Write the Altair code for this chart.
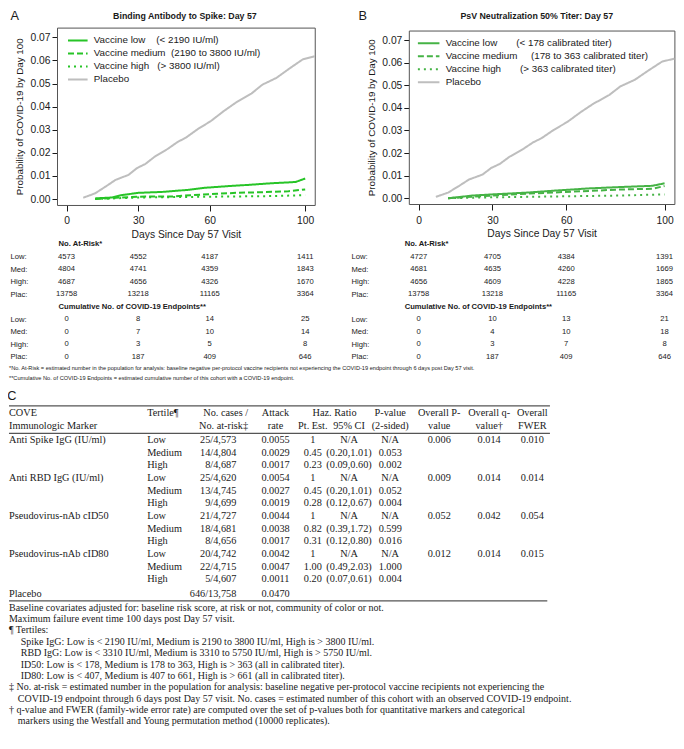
import json
import altair as alt
import pandas as pd

# ============================== DATA ==============================
SERIES = ["Vaccine low", "Vaccine medium", "Vaccine high", "Placebo"]

PLACEBO_DAY = [7, 12, 16.5, 20.5, 26, 29.5, 33, 37, 42.5, 46.5, 50, 55, 60.5, 66, 71, 77.5, 82, 88, 93.5, 99, 104]
PLACEBO_P = [0.0006, 0.0025, 0.0055, 0.0083, 0.0105, 0.0134, 0.0152, 0.0184, 0.0218, 0.0247, 0.0266,
             0.0303, 0.0338, 0.0382, 0.0418, 0.0457, 0.0495, 0.0525, 0.0566, 0.0605, 0.0618]

A_LOW_DAY = [12, 19, 23, 30, 40, 51, 58, 69, 77, 85, 96, 100]
A_LOW_P = [0.0003, 0.0007, 0.0017, 0.0027, 0.0031, 0.0040, 0.0049, 0.0057, 0.0062, 0.0068, 0.0074, 0.0089]
A_MED_DAY = [12, 23, 33, 44, 52, 63, 71, 82, 93, 100]
A_MED_P = [0.0, 0.0007, 0.0011, 0.0011, 0.0017, 0.0023, 0.0027, 0.0030, 0.0034, 0.0042]
A_HIGH_DAY = [12, 30, 58, 85, 100]
A_HIGH_P = [0.0, 0.0007, 0.0010, 0.0013, 0.0017]

B_LOW_DAY = [12, 22, 30, 44, 57, 70, 83, 95, 100]
B_LOW_P = [0.0, 0.0012, 0.0017, 0.0025, 0.0035, 0.0044, 0.0050, 0.0055, 0.0066]
B_MED_DAY = [12, 25, 44, 62, 83, 95, 100]
B_MED_P = [0.0, 0.0009, 0.0020, 0.0029, 0.0039, 0.0042, 0.0054]
B_HIGH_DAY = [12, 29, 56, 82, 100]
B_HIGH_P = [0.0, 0.0004, 0.0008, 0.0012, 0.0017]

A_TITLE = "Binding Antibody to Spike: Day 57"
B_TITLE = "PsV Neutralization 50% Titer: Day 57"
A_RANGES = ["(< 2190 IU/ml)", "(2190 to 3800 IU/ml)", "(> 3800 IU/ml)", ""]
B_RANGES = ["(< 178 calibrated titer)", "(178 to 363 calibrated titer)", "(> 363 calibrated titer)", ""]
X_TITLE = "Days Since Day 57 Visit"
Y_TITLE = "Probability of COVID-19 by Day 100"
X_TICKS = [0, 30, 60, 100]
Y_TICKS = [0.0, 0.01, 0.02, 0.03, 0.04, 0.05, 0.06, 0.07]

RISK_DAYS = [0, 30, 60, 100]
ROW_NAMES = ["Low:", "Med:", "High:", "Plac:"]
RISK_HEADERS = ["No. At-Risk*", "Cumulative No. of COVID-19 Endpoints**"]
A_RISK = [[4573, 4552, 4187, 1411], [4804, 4741, 4359, 1843], [4687, 4656, 4326, 1670], [13758, 13218, 11165, 3364]]
A_CUM = [[0, 8, 14, 25], [0, 7, 10, 14], [0, 3, 5, 8], [0, 187, 409, 646]]
B_RISK = [[4727, 4705, 4384, 1391], [4681, 4635, 4260, 1669], [4656, 4609, 4228, 1865], [13758, 13218, 11165, 3364]]
B_CUM = [[0, 10, 13, 21], [0, 4, 10, 18], [0, 3, 7, 8], [0, 187, 409, 646]]
RISK_NOTES = [
    "*No. At-Risk = estimated number in the population for analysis: baseline negative per-protocol vaccine recipients not experiencing the COVID-19 endpoint through 6 days post Day 57 visit.",
    "**Cumulative No. of COVID-19 Endpoints = estimated cumulative number of this cohort with a COVID-19 endpoint.",
]

MARKERS = ["Anti Spike IgG (IU/ml)", "Anti RBD IgG (IU/ml)", "Pseudovirus-nAb cID50", "Pseudovirus-nAb cID80"]
TERTILES = ["Low", "Medium", "High"]
CASES = ["25/4,573", "14/4,804", "8/4,687", "25/4,620", "13/4,745", "9/4,699",
         "21/4,727", "18/4,681", "8/4,656", "20/4,742", "22/4,715", "5/4,607"]
ATTACK = ["0.0055", "0.0029", "0.0017", "0.0054", "0.0027", "0.0019",
          "0.0044", "0.0038", "0.0017", "0.0042", "0.0047", "0.0011"]
HR_EST = ["1", "0.45", "0.23", "1", "0.45", "0.28", "1", "0.82", "0.31", "1", "1.00", "0.20"]
HR_CI = ["N/A", "(0.20,1.01)", "(0.09,0.60)", "N/A", "(0.20,1.01)", "(0.12,0.67)",
         "N/A", "(0.39,1.72)", "(0.12,0.80)", "N/A", "(0.49,2.03)", "(0.07,0.61)"]
PVAL = ["N/A", "0.053", "0.002", "N/A", "0.052", "0.004", "N/A", "0.599", "0.016", "N/A", "1.000", "0.004"]
OVERALL_P = ["0.006", "0.009", "0.052", "0.012"]
OVERALL_Q = ["0.014", "0.014", "0.042", "0.014"]
OVERALL_FWER = ["0.010", "0.014", "0.054", "0.015"]
PLACEBO_ROW = ["Placebo", "646/13,758", "0.0470"]
HEAD_LEFT = [("COVE", "Immunologic Marker"), ("Tertile\u00b6", "")]
HEAD_CASES = ("No. cases /", "No. at-risk\u2021")
HEAD_CENTER = [("Attack", "rate"), ("", "Pt. Est."), ("", "95% CI"), ("P-value", "(2-sided)"),
               ("Overall P-", "value"), ("Overall q-", "value\u2020"), ("Overall", "FWER")]
HEAD_SPAN = "Haz. Ratio"
NOTES = [
    ("flush", "Baseline covariates adjusted for: baseline risk score, at risk or not, community of color or not."),
    ("flush", "Maximum failure event time 100 days post Day 57 visit."),
    ("flush", "\u00b6 Tertiles:"),
    ("indent", "Spike IgG: Low is < 2190 IU/ml, Medium is 2190 to 3800 IU/ml, High is > 3800 IU/ml."),
    ("indent", "RBD IgG: Low is < 3310 IU/ml, Medium is 3310 to 5750 IU/ml, High is > 5750 IU/ml."),
    ("indent", "ID50: Low is < 178, Medium is 178 to 363, High is > 363 (all in calibrated titer)."),
    ("indent", "ID80: Low is < 407, Medium is 407 to 661, High is > 661 (all in calibrated titer)."),
    ("flush", "\u2021 No. at-risk = estimated number in the population for analysis: baseline negative per-protocol vaccine recipients not experiencing the"),
    ("cont", "COVID-19 endpoint through 6 days post Day 57 visit.  No. cases = estimated number of this cohort with an observed COVID-19 endpoint."),
    ("flush", "\u2020 q-value and FWER (family-wide error rate) are computed over the set of p-values both for quantitative markers and categorical"),
    ("cont", "markers using the Westfall and Young permutation method (10000 replicates)."),
]

# ============================== LAYOUT / STYLE ==============================
S = 0.98
W, H = 668, 728


def P(v):
    return round(v * S, 2)


SANS = "Liberation Sans"
SERIF = "Liberation Serif"
INK = "#1a1a1a"
FRAME = "#555555"
GRAY = "#bebebe"
A_COLORS = ["#27c427", "#27c427", "#27c427", GRAY]
B_COLORS = ["#45b345", "#45b345", "#45b345", GRAY]
DASHES = [[1, 0], [6, 3], [2, 4], [1, 0]]
XDOM = [-4, 104]
YDOM = [-0.00255, 0.07424]
A_BOX = (50, 313, 20, 201)   # left, right, top, bottom (reference px)
B_BOX = (409, 680, 23, 200)
A_GAPS = [3, 1, 2, 0]
B_GAPS = [6, 4, 6, 0]

TABLE_X = [1, 142, 233, 273, 311, 348, 390, 440, 491, 535, 553]
TX = alt.Scale(domain=list(range(len(TABLE_X))), range=[P(v) for v in TABLE_X], nice=False, zero=False)
TY = alt.Scale(domain=[0, 11], range=[P(441), P(583)], nice=False, zero=False)
HEAD_ROWS = (-2.17, -1.09)
PLACEBO_POS = 12.15
RULE_ROWS = [-2.71, -0.54, 12.7]


def lin(domain, rng):
    return alt.Scale(domain=domain, range=[P(v) for v in rng], nice=False, zero=False)


def curves(parts):
    recs = []
    for name, days, ps in parts:
        recs += [{"series": name, "day": d, "p": p} for d, p in zip(days, ps)]
    return pd.DataFrame(recs)


def panel(df, box, colors, ranges, gaps, title, title_x, title_pad, leg_xy, leg_row, sym_len, lab_off):
    x0, x1, y0, y1 = box
    xsc = lin(XDOM, [x0, x1])
    ysc = lin(YDOM, [y1, y0])
    mapping = {s: (s + "\u00a0" * g + " " + r if r else s) for s, r, g in zip(SERIES, ranges, gaps)}
    leg = alt.Legend(orient="none", legendX=P(leg_xy[0]), legendY=P(leg_xy[1]), title=None,
                     symbolType="stroke", symbolSize=(sym_len * S) ** 2, symbolStrokeWidth=2,
                     labelFont=SANS, labelFontSize=10 * S, labelColor=INK, labelOffset=lab_off,
                     labelLimit=400, clipHeight=P(leg_row), rowPadding=0, padding=0, offset=0,
                     labelExpr=json.dumps(mapping) + "[datum.value]")
    lines = alt.Chart(df).mark_line(strokeWidth=2).encode(
        x=alt.X("day:Q", scale=xsc, axis=alt.Axis(
            orient="bottom", offset=P(y1) - H, values=X_TICKS, format="d", labelFlush=False,
            labelFont=SANS, labelFontSize=10.5 * S, labelColor=INK, labelPadding=5,
            tickSize=6, tickColor=INK, domainColor=FRAME, grid=False,
            title=X_TITLE, titleFont=SANS, titleFontSize=10.5 * S, titleFontWeight="normal",
            titleColor=INK, titlePadding=3, titleLimit=400)),
        y=alt.Y("p:Q", scale=ysc, axis=alt.Axis(
            orient="left", offset=-P(x0), values=Y_TICKS, format=".2f",
            labelFont=SANS, labelFontSize=10.5 * S, labelColor=INK, labelPadding=2,
            tickSize=5, tickColor=INK, domainColor=FRAME, grid=False,
            title=Y_TITLE, titleFont=SANS, titleFontSize=10 * S, titleFontWeight="normal",
            titleColor=INK, titlePadding=5, titleLimit=400)),
        color=alt.Color("series:N", scale=alt.Scale(domain=SERIES, range=colors), legend=leg),
        strokeDash=alt.StrokeDash("series:N", scale=alt.Scale(domain=SERIES, range=DASHES), legend=leg),
    )
    frame = alt.Chart(df).mark_point(opacity=0).encode(
        x=alt.X("day:Q", scale=xsc, axis=alt.Axis(
            orient="top", offset=-P(y0), labels=False, ticks=False, grid=False, domainColor=FRAME,
            title=title, titleFont=SANS, titleFontSize=9 * S, titleFontWeight="bold", titleColor=INK,
            titlePadding=title_pad, titleX=P(title_x), titleLimit=400)),
        y=alt.Y("p:Q", scale=ysc, axis=alt.Axis(
            orient="right", offset=P(x1) - W, labels=False, ticks=False, grid=False,
            domainColor=FRAME, title=None)),
    )
    return [frame, lines]


def risk_table(risk, cum, box, stub_x, head_dx):
    recs = []
    for block, start in ((risk, 1), (cum, 6)):
        for i, vals in enumerate(block):
            recs += [{"day": d, "row": start + i, "text": str(v)} for d, v in zip(RISK_DAYS, vals)]
    df = pd.DataFrame(recs)
    xsc = lin(XDOM, [box[0], box[1]])
    ysc = lin([0, 9], [241, 356])
    stub = [""] + ROW_NAMES + [""] + ROW_NAMES
    nums = alt.Chart(df).mark_text(font=SANS, fontSize=7.8 * S, color=INK).encode(
        x=alt.X("day:Q", scale=xsc, axis=None),
        y=alt.Y("row:Q", scale=ysc, axis=alt.Axis(
            orient="left", offset=-P(stub_x), values=[1, 2, 3, 4, 6, 7, 8, 9],
            labelExpr=json.dumps(stub) + "[datum.value]", labelAlign="left", labelPadding=0,
            labelFont=SANS, labelFontSize=7.8 * S, labelColor=INK, labelOverlap=False,
            ticks=False, domain=False, grid=False, title=None)),
        text="text:N",
    )
    hdf = pd.DataFrame({"day": [RISK_DAYS[0]] * 2, "row": [0, 5], "text": RISK_HEADERS})
    heads = alt.Chart(hdf).mark_text(font=SANS, fontSize=7.8 * S, fontWeight="bold", color=INK,
                                     align="left", dx=head_dx).encode(
        x=alt.X("day:Q", scale=xsc, axis=None),
        y=alt.Y("row:Q", scale=ysc, axis=None),
        text="text:N",
    )
    return [nums, heads]


# ---------------- panels ----------------
df_a = curves([(SERIES[0], A_LOW_DAY, A_LOW_P), (SERIES[1], A_MED_DAY, A_MED_P),
               (SERIES[2], A_HIGH_DAY, A_HIGH_P), (SERIES[3], PLACEBO_DAY, PLACEBO_P)])
df_b = curves([(SERIES[0], B_LOW_DAY, B_LOW_P), (SERIES[1], B_MED_DAY, B_MED_P),
               (SERIES[2], B_HIGH_DAY, B_HIGH_P), (SERIES[3], PLACEBO_DAY, PLACEBO_P)])

layers = []
layers += panel(df_a, A_BOX, A_COLORS, A_RANGES, A_GAPS, A_TITLE, 180, 7, (60, 27), 12.3, 20, 5)
layers += panel(df_b, B_BOX, B_COLORS, B_RANGES, B_GAPS, B_TITLE, 539, 10, (417, 29.5), 13, 22, 5)
layers += risk_table(A_RISK, A_CUM, A_BOX, 2, -8)
layers += risk_table(B_RISK, B_CUM, B_BOX, 350, -14)

# panel letters
for letter, lx, ly in (("A", 7, 8), ("B", 362, 8), ("C", 4, 396)):
    layers.append(alt.Chart(pd.DataFrame({"t": [letter]})).mark_text(
        font=SANS, fontSize=13 * S, color=INK).encode(x=alt.value(P(lx)), y=alt.value(P(ly)), text="t:N"))

# at-risk footnotes
rn = pd.DataFrame({"line": [0, 1], "col": [0, 0], "text": RISK_NOTES})
layers.append(alt.Chart(rn).mark_text(font=SANS, fontSize=5.75 * S, color=INK, align="left").encode(
    x=alt.X("col:Q", scale=TX, axis=None),
    y=alt.Y("line:Q", scale=lin([0, 1], [367, 378]), axis=None),
    text="text:N"))

# ---------------- table C ----------------
tc = []
for i in range(12):
    g, t = divmod(i, 3)
    if t == 0:
        tc.append(dict(row=i, col=0, text=MARKERS[g], kind="left"))
    tc.append(dict(row=i, col=1, text=TERTILES[t], kind="left"))
    tc.append(dict(row=i, col=2, text=CASES[i], kind="right"))
    for c, arr in ((3, ATTACK), (4, HR_EST), (5, HR_CI), (6, PVAL)):
        tc.append(dict(row=i, col=c, text=arr[i], kind="center"))
    if t == 0:
        for c, arr in ((7, OVERALL_P), (8, OVERALL_Q), (9, OVERALL_FWER)):
            tc.append(dict(row=i, col=c, text=arr[g], kind="center"))
tc.append(dict(row=PLACEBO_POS, col=0, text=PLACEBO_ROW[0], kind="left"))
tc.append(dict(row=PLACEBO_POS, col=2, text=PLACEBO_ROW[1], kind="right"))
tc.append(dict(row=PLACEBO_POS, col=3, text=PLACEBO_ROW[2], kind="center"))
for c, (h1, h2) in enumerate(HEAD_LEFT):
    tc.append(dict(row=HEAD_ROWS[0], col=c, text=h1, kind="left"))
    tc.append(dict(row=HEAD_ROWS[1], col=c, text=h2, kind="left"))
tc.append(dict(row=HEAD_ROWS[0], col=2, text=HEAD_CASES[0], kind="head_right"))
tc.append(dict(row=HEAD_ROWS[1], col=2, text=HEAD_CASES[1], kind="head_right"))
for c, (h1, h2) in enumerate(HEAD_CENTER, start=3):
    tc.append(dict(row=HEAD_ROWS[0], col=c, text=h1, kind="center"))
    tc.append(dict(row=HEAD_ROWS[1], col=c, text=h2, kind="center"))
tc.append(dict(row=HEAD_ROWS[0], col=4.6, text=HEAD_SPAN, kind="center"))
tcdf = pd.DataFrame([r for r in tc if r["text"]])

for kind, align, dx in (("left", "left", 0), ("right", "right", 0), ("center", "center", 0),
                        ("head_right", "right", P(12))):
    layers.append(alt.Chart(tcdf).transform_filter(alt.datum.kind == kind).mark_text(
        font=SERIF, fontSize=10.5 * S, color=INK, align=align, dx=dx).encode(
        x=alt.X("col:Q", scale=TX, axis=None),
        y=alt.Y("row:Q", scale=TY, axis=None),
        text="text:N"))

rules = pd.DataFrame({"y": RULE_ROWS, "x0": [0, 0, 0], "x1": [10, 10, 9.85]})
layers.append(alt.Chart(rules).mark_rule(color=FRAME, strokeWidth=1.1).encode(
    x=alt.X("x0:Q", scale=TX, axis=None), x2="x1:Q",
    y=alt.Y("y:Q", scale=TY, axis=None)))

ndf = pd.DataFrame({"line": list(range(len(NOTES))), "col": 0,
                    "kind": [k for k, _ in NOTES], "text": [t for _, t in NOTES]})
for kind, dx in (("flush", 0), ("indent", P(12)), ("cont", P(9))):
    layers.append(alt.Chart(ndf).transform_filter(alt.datum.kind == kind).mark_text(
        font=SERIF, fontSize=10.2 * S, color=INK, align="left", dx=dx).encode(
        x=alt.X("col:Q", scale=TX, axis=None),
        y=alt.Y("line:Q", scale=lin([0, len(NOTES) - 1], [612, 728]), axis=None),
        text="text:N"))

chart = alt.layer(*layers).resolve_scale(
    x="independent", y="independent", color="independent", strokeDash="independent"
).resolve_axis(x="independent", y="independent").resolve_legend(
    color="independent", strokeDash="independent"
).properties(
    width=W, height=H, padding=0, autosize=alt.AutoSizeParams(type="none")
).configure_view(stroke=None)

chart.save("out.html", embed_options={"renderer": "svg", "actions": False})
